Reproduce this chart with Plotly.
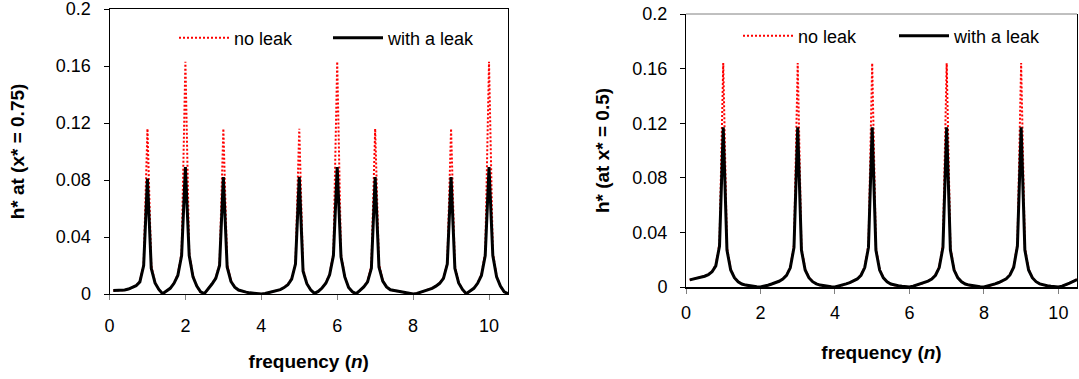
import plotly.graph_objects as go

# frequency grid (n)
n_vals = [0.1, 0.2, 0.3, 0.4, 0.5, 0.6, 0.7, 0.8, 0.9, 1.0,
          1.1, 1.2, 1.3, 1.4, 1.5, 1.6, 1.7, 1.8, 1.9, 2.0,
          2.1, 2.2, 2.3, 2.4, 2.5, 2.6, 2.7, 2.8, 2.9, 3.0,
          3.1, 3.2, 3.3, 3.4, 3.5, 3.6, 3.7, 3.8, 3.9, 4.0,
          4.1, 4.2, 4.3, 4.4, 4.5, 4.6, 4.7, 4.8, 4.9, 5.0,
          5.1, 5.2, 5.3, 5.4, 5.5, 5.6, 5.7, 5.8, 5.9, 6.0,
          6.1, 6.2, 6.3, 6.4, 6.5, 6.6, 6.7, 6.8, 6.9, 7.0,
          7.1, 7.2, 7.3, 7.4, 7.5, 7.6, 7.7, 7.8, 7.9, 8.0,
          8.1, 8.2, 8.3, 8.4, 8.5, 8.6, 8.7, 8.8, 8.9, 9.0,
          9.1, 9.2, 9.3, 9.4, 9.5, 9.6, 9.7, 9.8, 9.9, 10.0,
          10.1, 10.2, 10.3, 10.4, 10.5]

# left panel: h* at x* = 0.75
left_leak = [0.0025, 0.0025, 0.0025, 0.0028, 0.0035, 0.0045, 0.0058, 0.0085, 0.020, 0.081,
             0.018, 0.0078, 0.0032, 0.0002, 0.0020, 0.0040, 0.0075, 0.0130, 0.027, 0.089,
             0.027, 0.0120, 0.0055, 0.0015, 0.0003, 0.0035, 0.0070, 0.0110, 0.020, 0.082,
             0.019, 0.0088, 0.0048, 0.0028, 0.0019, 0.0013, 0.0008, 0.0004, 0.0001, 0.0,
             0.0003, 0.0009, 0.0017, 0.0024, 0.0031, 0.0045, 0.0065, 0.0105, 0.021, 0.082,
             0.016, 0.0072, 0.0030, 0.0004, 0.0018, 0.0042, 0.0075, 0.0135, 0.027, 0.089,
             0.026, 0.0120, 0.0045, 0.0015, 0.0002, 0.0025, 0.0050, 0.0085, 0.018, 0.082,
             0.019, 0.0090, 0.0050, 0.0030, 0.0025, 0.0020, 0.0014, 0.0008, 0.0003, 0.0,
             0.0004, 0.0012, 0.0020, 0.0030, 0.0040, 0.0055, 0.0075, 0.0110, 0.021, 0.082,
             0.018, 0.0078, 0.0032, 0.0002, 0.0020, 0.0040, 0.0075, 0.0130, 0.027, 0.089,
             0.027, 0.0120, 0.0055, 0.0015, 0.0003]

left_noleak = [0.0024, 0.0024, 0.0025, 0.0027, 0.0034, 0.0044, 0.0058, 0.0088, 0.021, 0.116,
               0.020, 0.0082, 0.0030, 0.0001, 0.0019, 0.0040, 0.0078, 0.0138, 0.029, 0.163,
               0.029, 0.0126, 0.0054, 0.0013, 0.0002, 0.0034, 0.0071, 0.0115, 0.021, 0.116,
               0.021, 0.0092, 0.0048, 0.0027, 0.0018, 0.0012, 0.0007, 0.0003, 0.0001, 0.0,
               0.0002, 0.0008, 0.0016, 0.0023, 0.0031, 0.0046, 0.0068, 0.0110, 0.022, 0.116,
               0.018, 0.0075, 0.0029, 0.0003, 0.0017, 0.0042, 0.0078, 0.0140, 0.029, 0.163,
               0.028, 0.0125, 0.0044, 0.0013, 0.0001, 0.0024, 0.0051, 0.0089, 0.020, 0.116,
               0.021, 0.0094, 0.0050, 0.0029, 0.0024, 0.0019, 0.0013, 0.0007, 0.0002, 0.0,
               0.0003, 0.0011, 0.0019, 0.0029, 0.0040, 0.0056, 0.0078, 0.0115, 0.022, 0.116,
               0.020, 0.0082, 0.0030, 0.0001, 0.0019, 0.0040, 0.0078, 0.0138, 0.029, 0.163,
               0.029, 0.0126, 0.0054, 0.0013, 0.0002]

# right panel: h* at x* = 0.5
right_leak = [0.0052, 0.0058, 0.0064, 0.0071, 0.0079, 0.0091, 0.0112, 0.0155, 0.030, 0.117,
              0.027, 0.0125, 0.0068, 0.0038, 0.0022, 0.0014, 0.0009, 0.0005, 0.0002, 0.0,
              0.0005, 0.0013, 0.0022, 0.0031, 0.0042, 0.0058, 0.0085, 0.0140, 0.029, 0.117,
              0.027, 0.0125, 0.0068, 0.0039, 0.0023, 0.0014, 0.0009, 0.0005, 0.0002, 0.0,
              0.0006, 0.0014, 0.0023, 0.0032, 0.0043, 0.0059, 0.0086, 0.0142, 0.029, 0.117,
              0.027, 0.0124, 0.0067, 0.0038, 0.0022, 0.0014, 0.0009, 0.0005, 0.0002, 0.0,
              0.0006, 0.0014, 0.0023, 0.0032, 0.0043, 0.0059, 0.0086, 0.0142, 0.029, 0.117,
              0.027, 0.0124, 0.0067, 0.0038, 0.0022, 0.0014, 0.0009, 0.0005, 0.0002, 0.0,
              0.0006, 0.0014, 0.0023, 0.0033, 0.0044, 0.0060, 0.0088, 0.0145, 0.030, 0.117,
              0.027, 0.0125, 0.0068, 0.0039, 0.0023, 0.0015, 0.0009, 0.0005, 0.0002, 0.0,
              0.0006, 0.0016, 0.0029, 0.0042, 0.0055]

right_noleak = [0.0051, 0.0057, 0.0063, 0.0070, 0.0079, 0.0092, 0.0115, 0.0162, 0.032, 0.164,
                0.029, 0.0131, 0.0070, 0.0039, 0.0022, 0.0013, 0.0008, 0.0004, 0.0001, 0.0,
                0.0004, 0.0012, 0.0021, 0.0030, 0.0042, 0.0059, 0.0088, 0.0146, 0.031, 0.164,
                0.029, 0.0131, 0.0070, 0.0040, 0.0023, 0.0013, 0.0008, 0.0004, 0.0001, 0.0,
                0.0005, 0.0013, 0.0022, 0.0031, 0.0043, 0.0060, 0.0089, 0.0148, 0.031, 0.164,
                0.029, 0.0130, 0.0069, 0.0039, 0.0022, 0.0013, 0.0008, 0.0004, 0.0001, 0.0,
                0.0005, 0.0013, 0.0022, 0.0031, 0.0043, 0.0060, 0.0089, 0.0148, 0.031, 0.164,
                0.029, 0.0130, 0.0069, 0.0039, 0.0022, 0.0013, 0.0008, 0.0004, 0.0001, 0.0,
                0.0005, 0.0013, 0.0022, 0.0032, 0.0044, 0.0061, 0.0091, 0.0151, 0.032, 0.164,
                0.029, 0.0131, 0.0070, 0.0040, 0.0023, 0.0014, 0.0008, 0.0004, 0.0001, 0.0,
                0.0005, 0.0015, 0.0028, 0.0042, 0.0056]

y_ticks = [0, 0.04, 0.08, 0.12, 0.16, 0.2]
y_labels = ["0", "0.04", "0.08", "0.12", "0.16", "0.2"]
x_ticks = [0, 2, 4, 6, 8, 10]
x_labels = ["0", "2", "4", "6", "8", "10"]

FONT = "Arial, Liberation Sans, sans-serif"
W, H = 1079, 379

fig = go.Figure()
fig.add_trace(go.Scatter(x=n_vals, y=left_noleak, mode="lines", name="no leak",
                         line=dict(color="#FF0000", width=2, dash="2px,2px"),
                         xaxis="x", yaxis="y", legend="legend"))
fig.add_trace(go.Scatter(x=n_vals, y=left_leak, mode="lines", name="with a leak",
                         line=dict(color="#000000", width=3),
                         xaxis="x", yaxis="y", legend="legend"))
fig.add_trace(go.Scatter(x=n_vals, y=right_noleak, mode="lines", name="no leak",
                         line=dict(color="#FF0000", width=2, dash="2px,2px"),
                         xaxis="x2", yaxis="y2", legend="legend2"))
fig.add_trace(go.Scatter(x=n_vals, y=right_leak, mode="lines", name="with a leak",
                         line=dict(color="#000000", width=3),
                         xaxis="x2", yaxis="y2", legend="legend2"))

tickfont = dict(family=FONT, size=18, color="#000000")
titlefont = dict(family=FONT, size=19, color="#000000", weight="bold")

def xax(domain, anchor, lblstand, standoff, lw, mirror):
    return dict(domain=domain, anchor=anchor, range=[0, 10.5], tickvals=x_ticks,
                ticktext=x_labels, ticks="outside", ticklen=5, tickcolor="#808080",
                ticklabelstandoff=lblstand, showgrid=False, zeroline=False,
                showline=True, linecolor="#000000", linewidth=lw, mirror=mirror,
                tickfont=tickfont, automargin=False, ticklabeloverflow="allow",
                title=dict(text="frequency (<i>n</i>)", font=titlefont, standoff=standoff))

def yax(domain, anchor, title, standoff):
    return dict(domain=domain, anchor=anchor, range=[0, 0.2], tickvals=y_ticks,
                ticktext=y_labels, ticks="outside", ticklen=5, tickcolor="#000000",
                ticklabelstandoff=9, showgrid=False, zeroline=False,
                showline=True, linecolor="#000000", linewidth=1, mirror=True,
                tickfont=tickfont, automargin=False, ticklabeloverflow="allow",
                title=dict(text=title, font=titlefont, standoff=standoff))

fig.update_layout(
    width=W, height=H,
    margin=dict(l=0, r=0, t=0, b=0, autoexpand=False),
    paper_bgcolor="white", plot_bgcolor="white",
    font=dict(family=FONT, size=18, color="#000000"),
    xaxis=xax([109.5 / W, 508 / W], "y", 10, 20, 1, True),
    yaxis=yax([(H - 294) / H, (H - 9) / H], "x", "h* at (x* = 0.75)", 26),
    xaxis2=xax([686 / W, 1077 / W], "y2", 3, 24, 2, False),
    yaxis2=yax([(H - 287) / H, (H - 14) / H], "x2", "h* (at x* = 0.5)", 17),
    legend=dict(orientation="h", x=174 / W, y=1 - 38 / H, xanchor="left", yanchor="middle",
                entrywidth=89, itemwidth=50, bgcolor="rgba(0,0,0,0)", borderwidth=0,
                font=dict(family=FONT, size=18, color="#000000")),
    legend2=dict(orientation="h", x=738 / W, y=1 - 36 / H, xanchor="left", yanchor="middle",
                 entrywidth=91, itemwidth=50, bgcolor="rgba(0,0,0,0)", borderwidth=0,
                 font=dict(family=FONT, size=18, color="#000000")),
    shapes=[dict(type="line", xref="x2 domain", yref="y2 domain", x0=0, x1=1, y0=1, y1=1,
                 line=dict(color="#808080", width=1), layer="above")],
)

fig.write_html("out.html", config={"displayModeBar": False},
               post_script="document.body.style.margin='0';")
